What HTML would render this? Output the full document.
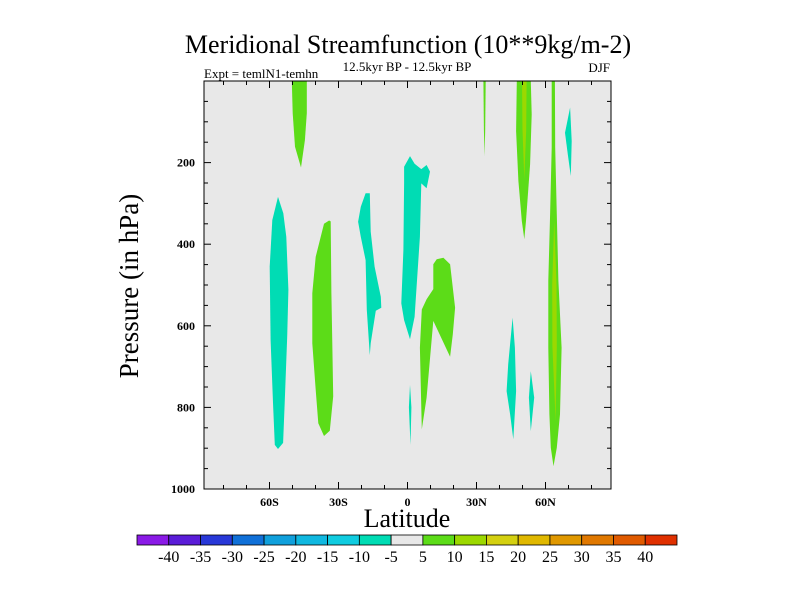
<!DOCTYPE html>
<html><head><meta charset="utf-8"><style>
html,body{margin:0;padding:0;background:#fff;}
svg{display:block;font-family:"Liberation Serif",serif;}
</style></head><body>
<svg id="chart" width="800" height="600" viewBox="0 0 800 600">
<text x="408" y="53" font-size="26" text-anchor="middle">Meridional Streamfunction (10**9kg/m-2)</text>
<text x="204" y="78" font-size="13">Expt = temlN1-temhn</text>
<text x="407" y="71" font-size="13" text-anchor="middle">12.5kyr BP - 12.5kyr BP</text>
<text x="610" y="72" font-size="13" text-anchor="end">DJF</text>
<text x="0" y="0" font-size="27" text-anchor="middle" transform="translate(138,286) rotate(-90)">Pressure (in hPa)</text>
<text x="407" y="527" font-size="26" text-anchor="middle">Latitude</text>
<g id="plot"></g>
<g id="cbar"></g>
</svg>
<script>
const xTickLats=[-60,-30,0,30,60];
const xTickLabels=["60S","30S","0","30N","60N"];
const yTickVals=[200,400,600,800,1000];
const yTickLabels=["200","400","600","800","1000"];
const levels=[-40,-35,-30,-25,-20,-15,-10,-5,5,10,15,20,25,30,35,40];
const levelLabels=["-40","-35","-30","-25","-20","-15","-10","-5","5","10","15","20","25","30","35","40"];
const levelColors=["#8a1ae6","#5a1cd8","#2838d8","#1070d8","#10a0dc","#10b8e0","#10cce0","#00dcb4","#e8e8e8","#5cdc18","#9cd800","#d4d010","#e0b800","#e09800","#e07800","#e05a00","#e03000"];
// contour regions: value band and polygon [lat, pressure]
const regionValues=[-7,7,-7,-7,-7,7,7,7,12,7,12,-7,-7,-7,7];
const regionShapes=[
[[-56.3,284],[-58.8,341],[-59.9,455],[-59.5,635],[-58.5,789],[-57.7,892],[-56.3,902],[-54.1,887],[-53.4,789],[-52.3,627],[-51.8,512],[-52.7,382],[-54,324]],
[[-34.1,342],[-36.3,350],[-39.9,431],[-41.4,520],[-41.4,643],[-39.9,757],[-38.8,839],[-36.3,870],[-33.8,857],[-32.3,773],[-32.7,643],[-33.1,520],[-33.4,344]],
[[-18.2,275],[-20.3,308],[-21.5,345],[-20.3,382],[-18.2,439],[-17.7,561],[-16.4,672],[-16,643],[-13.8,563],[-11.4,556],[-11.6,529],[-14.3,455],[-16,369],[-16.4,275]],
[[-1.5,210],[1.1,184],[3.1,203],[6,216],[8.3,206],[9.8,222],[8.3,263],[6,251],[5.4,382],[3.1,578],[1.1,633],[-1.5,586],[-2.7,545],[-1.8,414],[-1.5,251]],
[[1.1,745],[1.7,800],[1.3,892],[0.6,800]],
[[6.2,560],[5.4,654],[6.2,854],[8.3,776],[11.2,588],[18.5,676],[19.7,621],[20.7,556],[18.5,449],[15.6,433],[12.7,437],[11.2,449],[11.2,510],[8.3,535]],
[[33,0],[34,0],[33.8,120],[33.5,184],[33.2,120]],
[[47.5,0],[53.6,0],[54,82],[53.3,204],[51.5,343],[50.8,388],[49.7,343],[48.2,245],[47.2,123]],
[[49.8,0],[51.8,0],[51.6,120],[50.8,240],[50.0,120]],
[[62.7,0],[64.1,0],[64.2,163],[64.9,327],[65.6,490],[67,654],[66.3,817],[64.9,899],[63.5,944],[62.3,899],[61.7,817],[61.2,654],[61.2,490],[62,327],[62.7,163]],
[[63.8,343],[64.8,500],[64.9,650],[64.4,833],[63.0,650],[62.9,500]],
[[70.7,65],[68.5,127],[69.7,180],[71,233],[71.4,147]],
[[45.7,580],[43.8,694],[43.1,760],[44.6,817],[46,878],[47.2,760],[46.7,654]],
[[53.6,711],[52.8,776],[53.6,858],[55.1,776]],
[[-50.3,0],[-43.8,0],[-43.8,79],[-44.6,145],[-46.3,212],[-48.9,161],[-49.9,79]]
];
const NS="http://www.w3.org/2000/svg";
const L=204,R=611,T=81,B=489;
function xs(lat){return 407.5+lat*2.3;}
function ys(p){return T+(p/1000)*(B-T);}
function mk(tag,attrs,parent){const e=document.createElementNS(NS,tag);for(const k in attrs)e.setAttribute(k,attrs[k]);parent.appendChild(e);return e;}
function colorFor(v){let i=0;while(i<levels.length&&v>levels[i])i++;return levelColors[i];}
const plot=document.getElementById('plot');
const bg=mk('rect',{x:L,y:T,width:R-L,height:B-T,fill:'#e8e8e8'},plot);


regionShapes.forEach((s,i)=>{
  const pg=mk('polygon',{points:s.map(q=>xs(q[0]).toFixed(1)+','+ys(q[1]).toFixed(1)).join(' '),fill:colorFor(regionValues[i])},plot);
  
  
});
const fr=mk('rect',{x:L,y:T,width:R-L,height:B-T,fill:'none',stroke:'#000','stroke-width':1},plot);


for(let lat=-80;lat<=80;lat+=10){
  const x=xs(lat),len=(lat%30===0)?7:4;
  mk('line',{x1:x,y1:B,x2:x,y2:B-len,stroke:'#000'},plot);
  mk('line',{x1:x,y1:T,x2:x,y2:T+len,stroke:'#000'},plot);
}
for(let p=50;p<1000;p+=50){
  const y=ys(p),len=(p%200===0)?7:4;
  mk('line',{x1:L,y1:y,x2:L+len,y2:y,stroke:'#000'},plot);
  mk('line',{x1:R,y1:y,x2:R-len,y2:y,stroke:'#000'},plot);
}
xTickLats.forEach((lat,i)=>{
  const t=mk('text',{x:xs(lat),y:B+17,'font-size':12,'font-weight':'bold','text-anchor':'middle'},plot);
  t.textContent=xTickLabels[i];
  
  
});
yTickVals.forEach((p,i)=>{
  const t=mk('text',{x:L-9,y:ys(p)+4,'font-size':12,'font-weight':'bold','text-anchor':'end'},plot);
  t.textContent=yTickLabels[i];
  
  
});
const cb=document.getElementById('cbar');
const cx0=137,cw=540/17,cy=535,ch=10;
levelColors.forEach((c,i)=>{
  const r=mk('rect',{x:cx0+i*cw,y:cy,width:cw,height:ch,fill:c,stroke:'#000','stroke-width':0.8},cb);
  
  
});
levels.forEach((v,i)=>{
  const t=mk('text',{x:cx0+(i+1)*cw,y:cy+27,'font-size':16,'text-anchor':'middle'},cb);
  t.textContent=levelLabels[i];
  
  
});
</script>
</body></html>
